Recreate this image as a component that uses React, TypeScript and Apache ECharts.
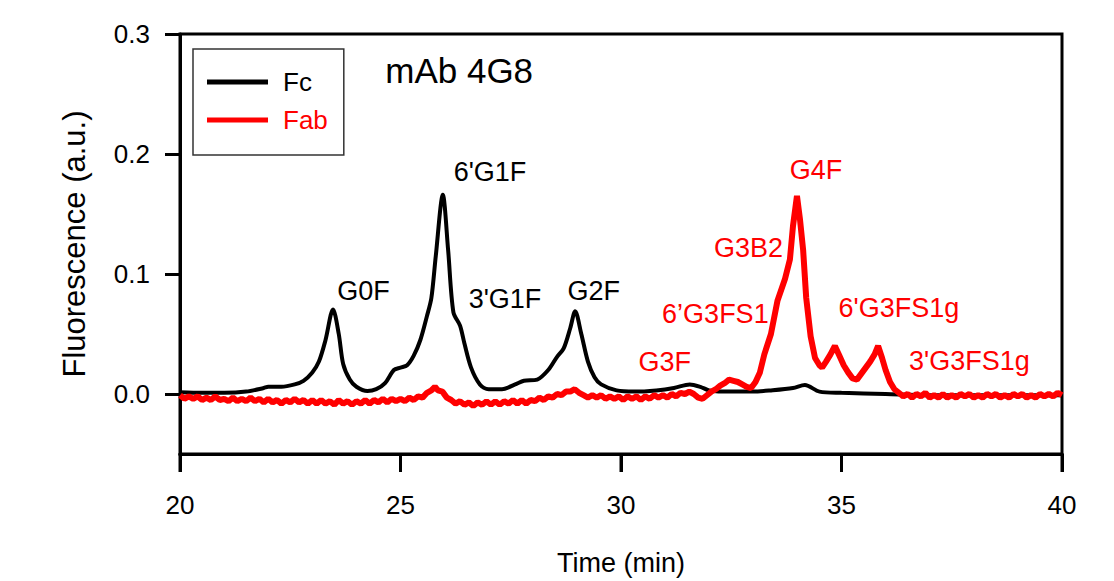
import React, { useEffect, useRef } from "react";
import * as echarts from "echarts";

// Fc trace (time in min, fluorescence a.u.)
const fcData: [number, number][] = [
  [20.0, 0.0015], [20.5, 0.001], [21.0, 0.001], [21.5, 0.002], [21.9, 0.005],
  [22.0, 0.006], [22.3, 0.006], [22.6, 0.008], [22.8, 0.011], [23.0, 0.018],
  [23.15, 0.027], [23.3, 0.045], [23.47, 0.0705], [23.6, 0.05], [23.7, 0.025],
  [23.85, 0.012], [24.0, 0.006], [24.25, 0.0025], [24.45, 0.004], [24.65, 0.009],
  [24.85, 0.02], [25.0, 0.022], [25.15, 0.024], [25.3, 0.032], [25.45, 0.045],
  [25.6, 0.065], [25.7, 0.08], [25.8, 0.115], [25.96, 0.166], [26.08, 0.12],
  [26.2, 0.068], [26.35, 0.057], [26.45, 0.042], [26.6, 0.022], [26.8, 0.008],
  [27.0, 0.004], [27.3, 0.004], [27.6, 0.008], [27.8, 0.011], [28.1, 0.012],
  [28.35, 0.02], [28.55, 0.031], [28.7, 0.038], [28.85, 0.055], [28.96, 0.069],
  [29.1, 0.05], [29.25, 0.027], [29.4, 0.014], [29.55, 0.008], [29.9, 0.003],
  [30.3, 0.002], [30.8, 0.003], [31.2, 0.005], [31.56, 0.008], [31.8, 0.006],
  [32.0, 0.003], [32.5, 0.002], [33.0, 0.002], [33.4, 0.003], [33.9, 0.005],
  [34.17, 0.0075], [34.5, 0.002], [35.0, 0.001], [36.0, 0.0], [37.0, -0.001],
  [38.0, -0.001], [39.0, -0.001], [40.0, -0.001],
];

// Fab trace
const fabData: [number, number][] = [
  [20.0, -0.001], [20.1, -0.004], [20.2, -0.002], [20.3, -0.004], [20.4, -0.002], [20.5, -0.005],
  [20.6, -0.003], [20.7, -0.005], [20.8, -0.002], [20.9, -0.005], [21.0, -0.004],
  [21.1, -0.006], [21.2, -0.003], [21.3, -0.006], [21.4, -0.004], [21.5, -0.006],
  [21.6, -0.003], [21.7, -0.006], [21.8, -0.004], [21.9, -0.007], [22.0, -0.004],
  [22.1, -0.007], [22.2, -0.005], [22.3, -0.008], [22.4, -0.005], [22.5, -0.007],
  [22.6, -0.004], [22.7, -0.007], [22.8, -0.005], [22.9, -0.008], [23.0, -0.005],
  [23.1, -0.008], [23.2, -0.005], [23.3, -0.008], [23.4, -0.006], [23.5, -0.009],
  [23.6, -0.005], [23.7, -0.008], [23.8, -0.006], [23.9, -0.009], [24.0, -0.006],
  [24.1, -0.008], [24.2, -0.005], [24.3, -0.008], [24.4, -0.005], [24.5, -0.007],
  [24.6, -0.004], [24.7, -0.007], [24.8, -0.004], [24.9, -0.006], [25.0, -0.004],
  [25.1, -0.006], [25.2, -0.003], [25.3, -0.005], [25.4, -0.002], [25.5, -0.003],
  [25.6, 0.001], [25.7, 0.003], [25.78, 0.006], [25.85, 0.003], [25.95, 0.002],
  [26.05, -0.003], [26.15, -0.005], [26.25, -0.008], [26.35, -0.006], [26.45, -0.009],
  [26.55, -0.007], [26.65, -0.01], [26.75, -0.007], [26.85, -0.009], [26.95, -0.006],
  [27.05, -0.009], [27.15, -0.006], [27.25, -0.009], [27.35, -0.006], [27.45, -0.008],
  [27.55, -0.005], [27.65, -0.008], [27.75, -0.005], [27.85, -0.008], [27.95, -0.005],
  [28.05, -0.006], [28.15, -0.003], [28.25, -0.005], [28.35, -0.002], [28.45, -0.003],
  [28.55, 0.0], [28.65, -0.001], [28.75, 0.002], [28.85, 0.002], [28.95, 0.004],
  [29.05, 0.001], [29.15, -0.001], [29.25, -0.003], [29.35, -0.001], [29.45, -0.003],
  [29.55, -0.001], [29.65, -0.004], [29.75, -0.002], [29.85, -0.004], [29.95, -0.002],
  [30.05, -0.005], [30.15, -0.002], [30.25, -0.004], [30.35, -0.002], [30.45, -0.005],
  [30.55, -0.002], [30.65, -0.004], [30.75, -0.001], [30.85, -0.003], [30.95, -0.001],
  [31.05, -0.003], [31.15, 0.0], [31.25, -0.002], [31.35, 0.001], [31.45, 0.0],
  [31.55, 0.002], [31.65, 0.0], [31.75, -0.003], [31.85, -0.004], [31.95, -0.001],
  [32.05, 0.002], [32.15, 0.004], [32.25, 0.007], [32.35, 0.009], [32.45, 0.012],
  [32.55, 0.011], [32.65, 0.01], [32.75, 0.008], [32.85, 0.006], [32.95, 0.005],
  [33.05, 0.01], [33.15, 0.018], [33.25, 0.033], [33.4, 0.05], [33.55, 0.078],
  [33.72, 0.096], [33.83, 0.112], [33.9, 0.14], [33.99, 0.165], [34.06, 0.145],
  [34.13, 0.12], [34.2, 0.08], [34.3, 0.048], [34.4, 0.03], [34.5, 0.024],
  [34.56, 0.022], [34.65, 0.027], [34.75, 0.033], [34.85, 0.04], [34.95, 0.032],
  [35.05, 0.024], [35.15, 0.018], [35.25, 0.013], [35.35, 0.012], [35.45, 0.017],
  [35.55, 0.022], [35.65, 0.027], [35.75, 0.033], [35.83, 0.04], [35.92, 0.03],
  [36.0, 0.02], [36.1, 0.01], [36.2, 0.004], [36.3, 0.001], [36.4, -0.002],
  [36.5, 0.0], [36.6, -0.003], [36.7, 0.0], [36.8, -0.002], [36.9, 0.001],
  [37.0, -0.003], [37.1, -0.001], [37.2, -0.003], [37.3, 0.0], [37.4, -0.003],
  [37.5, -0.001], [37.6, -0.003], [37.7, 0.0], [37.8, -0.002], [37.9, 0.0],
  [38.0, -0.003], [38.1, -0.001], [38.2, -0.003], [38.3, 0.0], [38.4, -0.002],
  [38.5, 0.0], [38.6, -0.003], [38.7, -0.001], [38.8, -0.003], [38.9, 0.0],
  [39.0, -0.002], [39.1, 0.0], [39.2, -0.003], [39.3, -0.001], [39.4, -0.003],
  [39.5, 0.0], [39.6, -0.002], [39.7, 0.0], [39.8, -0.002], [39.9, 0.001],
  [40.0, -0.001],
];

// Peak annotations: text, x (min), y (a.u.), series it belongs to
const annotationTexts = ["G0F", "6'G1F", "3'G1F", "G2F", "G3F", "6’G3FS1", "G3B2", "G4F", "6'G3FS1g", "3'G3FS1g"];
const annotationX = [24.16, 27.03, 27.37, 29.38, 30.99, 32.14, 32.89, 34.42, 36.3, 37.9];
const annotationY = [0.0856, 0.1853, 0.079, 0.0856, 0.0266, 0.0665, 0.122, 0.187, 0.0715, 0.0274];
const annotationSeries = ["Fc", "Fc", "Fc", "Fc", "Fab", "Fab", "Fab", "Fab", "Fab", "Fab"];

const titleText = "mAb 4G8";
const titlePos: [number, number] = [26.33, 0.27];

const yTickValues = [0, 0.1, 0.2, 0.3];
const xTickValues = [20, 25, 30, 35, 40];
const yMin = -0.05;

const seriesNames = ["Fc", "Fab"];
const seriesColors = ["#000000", "#ff0000"];

const FONT = "'Liberation Sans', Arial, Helvetica, sans-serif";

export default function App() {
  const ref = useRef<HTMLDivElement>(null);
  useEffect(() => {
    if (!ref.current) return;
    const chart = echarts.init(ref.current, undefined, { renderer: "svg" });
    const colorOf = (n: string) => seriesColors[seriesNames.indexOf(n)];
    chart.setOption({
      animation: false,
      textStyle: { fontFamily: FONT },
      grid: {
        left: 180,
        top: 34,
        width: 882,
        height: 421,
        show: true,
        borderColor: "#000",
        borderWidth: 3,
        containLabel: false,
      },
      legend: {
        orient: "vertical",
        left: 193,
        top: 49,
        padding: [20, 16, 22, 14],
        itemWidth: 61,
        itemHeight: 5,
        itemGap: 12,
        icon: "rect",
        borderColor: "#333",
        borderWidth: 1.5,
        borderRadius: 0,
        backgroundColor: "#fff",
        textStyle: { fontSize: 26, fontFamily: FONT, lineHeight: 26, padding: [0, 0, 0, 10] },
        data: [
          { name: "Fc", textStyle: { color: "#000" } },
          { name: "Fab", textStyle: { color: "#ff0000" } },
        ],
      },
      xAxis: {
        type: "value",
        min: 20,
        max: 40,
        interval: 5,
        name: "Time (min)",
        nameLocation: "middle",
        nameGap: 95,
        nameTextStyle: { fontSize: 27, color: "#000", fontFamily: FONT },
        axisLine: { show: true, onZero: false, lineStyle: { color: "#000", width: 3 } },
        axisTick: {
          show: true,
          inside: false,
          length: 18,
          lineStyle: { color: "#000", width: 3 },
        },
        axisLabel: { fontSize: 26, color: "#000", margin: 38, fontFamily: FONT },
        splitLine: { show: false },
      },
      yAxis: {
        type: "value",
        min: yMin,
        max: 0.3,
        name: "Fluorescence (a.u.)",
        nameLocation: "middle",
        nameGap: 90,
        nameTextStyle: { fontSize: 31, color: "#000", fontFamily: FONT },
        axisLine: { show: true, onZero: false, lineStyle: { color: "#000", width: 3 } },
        axisTick: {
          show: true,
          inside: false,
          length: 15,
          customValues: yTickValues,
          lineStyle: { color: "#000", width: 3 },
        },
        axisLabel: {
          fontSize: 26,
          color: "#000",
          margin: 30,
          fontFamily: FONT,
          customValues: yTickValues,
          formatter: (v: number) => v.toFixed(1),
        },
        splitLine: { show: false },
      },
      series: [
        {
          name: "Fc",
          type: "line",
          data: fcData,
          symbol: "none",
          smooth: 0.3,
          lineStyle: { color: seriesColors[0], width: 4 },
          itemStyle: { color: seriesColors[0] },
          z: 2,
        },
        {
          name: "Fab",
          type: "line",
          data: fabData,
          symbol: "none",
          lineStyle: { color: seriesColors[1], width: 6 },
          itemStyle: { color: seriesColors[1] },
          z: 3,
        },
      ],
    });

    const toPx = (x: number, y: number) => chart.convertToPixel({ gridIndex: 0 }, [x, y]) as number[];
    const elems: any[] = annotationTexts.map((t, i) => {
      const p = toPx(annotationX[i], annotationY[i]);
      return {
        type: "text",
        x: p[0],
        y: p[1],
        silent: true,
        z: 10,
        style: {
          text: t,
          fill: colorOf(annotationSeries[i]),
          font: `27px ${FONT}`,
          align: "center",
          verticalAlign: "middle",
        },
      };
    });
    const tp = toPx(titlePos[0], titlePos[1]);
    elems.push({
      type: "text",
      x: tp[0],
      y: tp[1],
      silent: true,
      z: 10,
      style: {
        text: titleText,
        fill: "#000",
        font: `35px ${FONT}`,
        align: "center",
        verticalAlign: "middle",
      },
    });
    // x-axis tick marks drawn as thin rectangles hanging below the axis
    xTickValues.forEach((v) => {
      const p = toPx(v, yMin);
      elems.push({
        type: "rect",
        silent: true,
        z: 20,
        shape: { x: p[0] - 1.5, y: p[1] - 1, width: 3, height: 19 },
        style: { fill: "#000" },
      });
    });
    chart.setOption({ graphic: elems });

    return () => chart.dispose();
  }, []);
  return (
    <div
      ref={ref}
      style={{ position: "fixed", left: 0, top: 0, width: 1114, height: 581, background: "#fff" }}
    />
  );
}
